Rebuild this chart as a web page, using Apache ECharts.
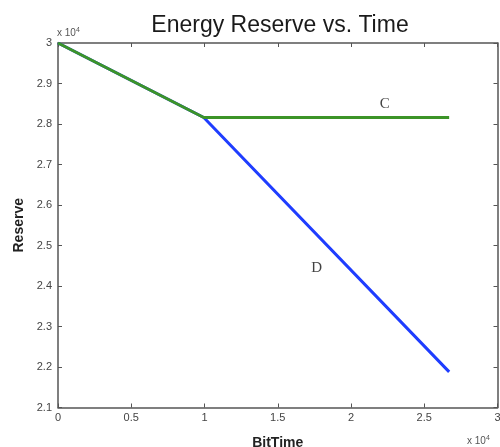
<!DOCTYPE html>
<html>
<head>
<meta charset="utf-8">
<script src="https://cdn.jsdelivr.net/npm/echarts@6/dist/echarts.min.js"></script>
<style>html,body{margin:0;padding:0;background:#fff}#c{width:500px;height:447px}</style>
</head>
<body>
<div id="c"></div>
<script>
var seriesNames = ['D', 'C'];
var seriesD = [[0, 30000], [9950, 28160], [26700, 21880]];
var seriesC = [[0, 30000], [9950, 28160], [26700, 28160]];
var annotations = [[22300, 28490, 'C'], [17660, 24450, 'D']];
var xTickLabels = ['0', '0.5', '1', '1.5', '2', '2.5', '3'];
var yTickLabels = ['2.1', '2.2', '2.3', '2.4', '2.5', '2.6', '2.7', '2.8', '2.9', '3'];

var chart = echarts.init(document.getElementById('c'), null, {renderer: 'canvas'});
var axisColor = '#555';
var labelStyle = {color: '#444', fontSize: 11, fontFamily: 'Liberation Sans'};
function baseAxis(extra) {
  return Object.assign({
    axisLine: {show: true, onZero: false, lineStyle: {color: axisColor, width: 1.5}},
    axisTick: {show: true, inside: true, length: 4, lineStyle: {color: axisColor}},
    splitLine: {show: false}
  }, extra);
}
chart.setOption({
  animation: false,
  backgroundColor: '#fff',
  title: {
    text: 'Energy Reserve vs. Time',
    left: 275, top: 9, textAlign: 'center',
    textStyle: {fontFamily: 'Liberation Sans', fontWeight: 'normal', fontSize: 23, color: '#1a1a1a'}
  },
  grid: {left: 58, right: 2.5, top: 43, bottom: 39.5, containLabel: false, outerBoundsMode: 'none'},
  xAxis: [
    baseAxis({
      type: 'value', min: 0, max: 30000, interval: 5000, position: 'bottom',
      name: 'BitTime', nameLocation: 'middle', nameGap: 29,
      nameTextStyle: {fontFamily: 'Liberation Sans', fontSize: 14, fontWeight: 'bold', color: '#222'},
      axisLabel: Object.assign({margin: 5, formatter: function (v) { return xTickLabels[Math.round(v / 5000)]; }}, labelStyle)
    }),
    baseAxis({type: 'value', min: 0, max: 30000, interval: 5000, position: 'top', axisLabel: {show: false}})
  ],
  yAxis: [
    baseAxis({
      type: 'value', min: 21000, max: 30000, interval: 1000, position: 'left',
      name: 'Reserve', nameLocation: 'middle', nameGap: 32,
      nameTextStyle: {fontFamily: 'Liberation Sans', fontSize: 14, fontWeight: 'bold', color: '#222'},
      axisLabel: Object.assign({margin: 6, formatter: function (v) { return yTickLabels[Math.round((v - 21000) / 1000)]; }}, labelStyle)
    }),
    baseAxis({type: 'value', min: 21000, max: 30000, interval: 1000, position: 'right', axisLabel: {show: false}})
  ],
  series: [
    {name: seriesNames[0], type: 'line', data: seriesD, symbol: 'none', lineStyle: {color: '#1f3dff', width: 3}, z: 2},
    {name: seriesNames[1], type: 'line', data: seriesC, symbol: 'none', lineStyle: {color: '#3c9428', width: 3}, z: 3},
    {
      type: 'scatter', data: annotations, symbolSize: 2, itemStyle: {color: 'rgba(0,0,0,0)'}, z: 4,
      label: {show: true, position: 'inside', formatter: function (p) { return p.data[2]; },
        fontFamily: 'Liberation Serif', fontSize: 15, color: '#111'}
    }
  ],
  graphic: [
    {type: 'text', left: 57, top: 27, style: {
      text: '{a|x 10}{s|4}', rich: {a: {fontSize: 10, fontFamily: 'Liberation Sans', fill: '#555'}, s: {fontSize: 7, fontFamily: 'Liberation Sans', fill: '#555', verticalAlign: 'top', padding: [0,0,6,0]}}}},
    {type: 'text', left: 467, top: 435, style: {
      text: '{a|x 10}{s|4}', rich: {a: {fontSize: 10, fontFamily: 'Liberation Sans', fill: '#555'}, s: {fontSize: 7, fontFamily: 'Liberation Sans', fill: '#555', verticalAlign: 'top', padding: [0,0,6,0]}}}}
  ]
});
</script>
</body>
</html>
